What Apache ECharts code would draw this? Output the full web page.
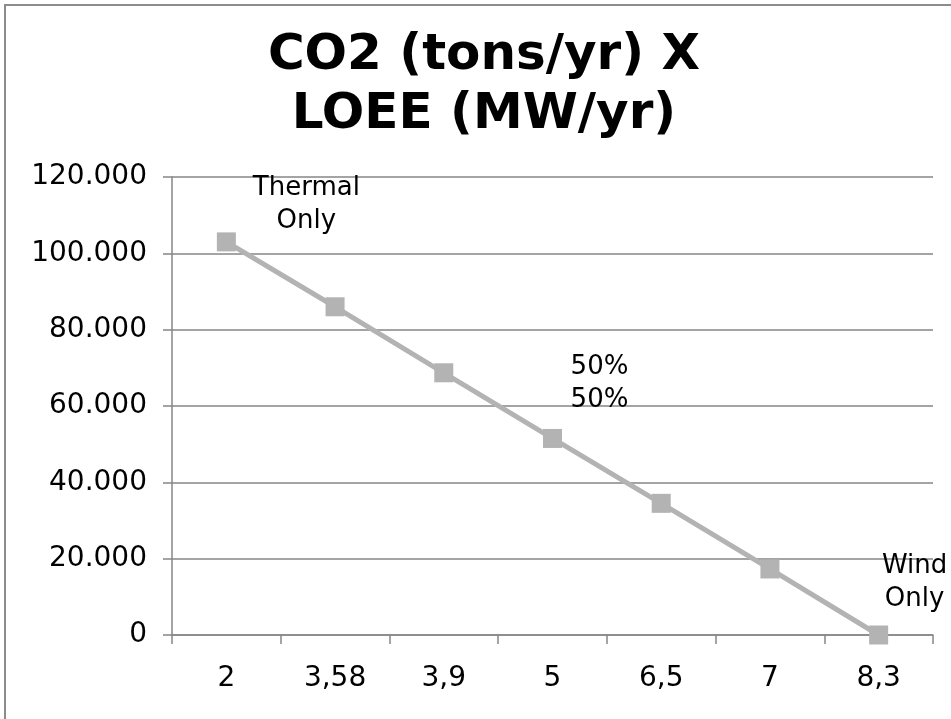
<!DOCTYPE html>
<html>
<head>
<meta charset="utf-8">
<script src="https://cdn.jsdelivr.net/npm/echarts@6/dist/echarts.min.js"></script>
<style>
html,body{margin:0;padding:0;background:#fff;}
#chart{width:951px;height:719px;}
</style>
</head>
<body>
<div id="chart"></div>
<script>
const categories = ['2', '3,58', '3,9', '5', '6,5', '7', '8,3'];
const co2Values = [103000, 86000, 68700, 51500, 34500, 17300, 0];
const pointLabels = ['Thermal\nOnly', '', '', '50%\n50%', '', '', 'Wind\nOnly'];
const yTicks = { min: 0, max: 120000, interval: 20000 };

const labelOffsets = { 0: [80, -37], 3: [47, -55], 6: [36, -52] };

const seriesData = co2Values.map((v, i) => {
  const item = { value: v };
  if (pointLabels[i]) {
    item.label = {
      show: true,
      position: 'inside',
      offset: labelOffsets[i],
      formatter: pointLabels[i],
      fontFamily: 'DejaVu Sans',
      fontSize: 26,
      lineHeight: 33,
      color: '#000',
      align: 'center',
      verticalAlign: 'middle'
    };
  }
  return item;
});

function fmtThousands(v) {
  return String(v).replace(/\B(?=(\d{3})+(?!\d))/g, '.');
}

const chart = echarts.init(document.getElementById('chart'), null, { renderer: 'canvas' });
chart.setOption({
  backgroundColor: '#fff',
  animation: false,
  title: {
    text: 'CO2 (tons/yr) X\nLOEE (MW/yr)',
    left: 484,
    top: 27,
    textAlign: 'center',
    padding: 0,
    textStyle: {
      fontFamily: 'DejaVu Sans',
      fontWeight: 'bold',
      fontSize: 50,
      lineHeight: 59,
      color: '#000'
    }
  },
  graphic: [{
    type: 'rect',
    shape: { x: 5, y: 5, width: 1000, height: 1000 },
    style: { fill: 'none', stroke: '#8c8c8c', lineWidth: 2 },
    silent: true
  }],
  grid: { left: 172, right: 18, top: 177, bottom: 84, containLabel: false },
  xAxis: {
    type: 'category',
    data: categories,
    boundaryGap: true,
    axisLine: { show: true, lineStyle: { color: '#868686', width: 1.5 } },
    axisTick: { show: true, alignWithLabel: false, length: 9, lineStyle: { color: '#868686', width: 1.5 } },
    axisLabel: { fontFamily: 'DejaVu Sans', fontSize: 28, color: '#000', margin: 30 },
    splitLine: { show: false }
  },
  yAxis: {
    type: 'value',
    min: yTicks.min,
    max: yTicks.max,
    interval: yTicks.interval,
    axisLine: { show: true, lineStyle: { color: '#868686', width: 1.5 } },
    axisTick: { show: true, length: 9, lineStyle: { color: '#868686', width: 1.5 } },
    axisLabel: {
      fontFamily: 'DejaVu Sans', fontSize: 28, color: '#000', margin: 25,
      formatter: fmtThousands
    },
    splitLine: { show: true, lineStyle: { color: '#868686', width: 1.5 } }
  },
  series: [{
    type: 'line',
    data: seriesData,
    symbol: 'rect',
    symbolSize: 19,
    lineStyle: { color: '#b3b3b3', width: 5 },
    itemStyle: { color: '#b3b3b3' },
    label: { show: false },
    z: 3
  }]
});
</script>
</body>
</html>
